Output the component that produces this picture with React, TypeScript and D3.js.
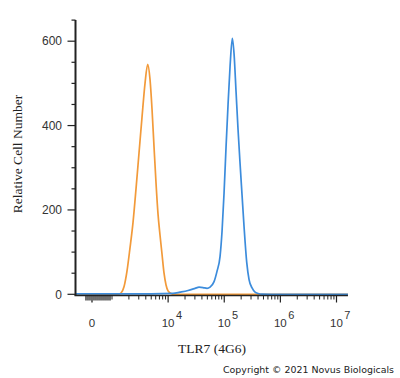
import React from "react";
import * as d3 from "d3";

// ---- data (fluorescence intensity vs relative cell count) ----
const isotypeX = [-850, 0, 1000, 1280, 1445, 1636, 1850, 2093, 2367, 2678, 3029, 3427, 3876, 4327, 4752, 5160, 5605, 6085, 6607, 7174, 7788, 8455, 9181, 9960, 11270, 12750, 100000, 1000000, 16000000];
const isotypeY = [0, 0, 0, 0, 3, 18, 55, 110, 170, 250, 335, 420, 500, 545, 510, 440, 350, 264, 190, 140, 95, 50, 22, 8, 2, 0, 0, 0, 0];

const tlr7X = [-850, 0, 1000, 5000, 12210, 16290, 22630, 30170, 35570, 41920, 49370, 55820, 65790, 74440, 84200, 91400, 99200, 107700, 116900, 126900, 139400, 149500, 162300, 176200, 191300, 207600, 225400, 251800, 276700, 313000, 354000, 400300, 471800, 1000000, 16000000];
const tlr7Y = [1, 1, 1, 1, 2, 5, 9, 14, 17, 16, 14, 17, 30, 55, 90, 150, 240, 350, 450, 540, 607, 570, 480, 390, 310, 235, 160, 75, 35, 15, 5, 2, 0.5, 0, 0];

const yMajorTicks = [0, 200, 400, 600];
const yMinorTicks = [50, 100, 150, 250, 300, 350, 450, 500, 550, 650];
const xDecades = [4, 5, 6, 7];
const xLinearMinor = [-300, -200, -100, 100, 200, 300, 400, 500, 600, 700, 800, 900];

const xTitle = "TLR7 (4G6)";
const yTitle = "Relative Cell Number";
const copyright = "Copyright \u00a9 2021 Novus Biologicals";

// ---- biexponential-like transform: linear near zero, log above 1000 ----
const LIN = 1000;
const LINW = 20 / 56.1;
function tf(v: number): number {
  if (v >= LIN) return Math.log10(v);
  if (v <= -LIN) return 3 - 2 * LINW - Math.log10(-v / LIN);
  return 3 - LINW * (1 - v / LIN);
}

export default function App() {
  const W = 400, H = 378;
  const xs = d3.scaleLinear().domain([3, 7]).range([112, 336.5]);
  const x = (v: number) => xs(tf(v));
  const y = d3.scaleLinear().domain([0, 650]).range([294.3, 20.1]);

  const axisL = 75.5;
  const axisB = y(0) + 1.2;
  const xEnd = x(16000000);

  const line = d3
    .line<[number, number]>()
    .x((d) => x(d[0]))
    .y((d) => y(d[1]))
    .curve(d3.curveMonotoneX);

  const iso = isotypeX.map((v, i) => [v, isotypeY[i]] as [number, number]);
  const tlr = tlr7X.map((v, i) => [v, tlr7Y[i]] as [number, number]);

  const logMinor: number[] = [];
  for (let d = 3; d <= 6; d++) {
    for (let k = d === 3 ? 1 : 2; k <= 9; k++) {
      logMinor.push(k * Math.pow(10, d));
    }
  }

  const tickColor = "#222";
  const labelColor = "#333";

  return (
    <svg
      width={W}
      height={H}
      style={{ position: "absolute", left: 0, top: 0, background: "#fff" }}
    >
      <rect x={0} y={0} width={W} height={H} fill="#fff" />

      {/* curves */}
      <path d={line(iso) || ""} fill="none" stroke="#f29a3a" strokeWidth={1.7} />
      <path d={line(tlr) || ""} fill="none" stroke="#3c8cdc" strokeWidth={1.7} />

      {/* y axis */}
      <line x1={axisL} x2={axisL} y1={y(650)} y2={axisB} stroke={tickColor} strokeWidth={2} />
      {yMajorTicks.map((t) => (
        <g key={"ym" + t}>
          <line x1={axisL - 8} x2={axisL} y1={y(t)} y2={y(t)} stroke={tickColor} strokeWidth={1.2} />
          <text
            x={62}
            y={y(t) + 4.3}
            textAnchor="end"
            fontFamily="Liberation Sans, Arial, sans-serif"
            fontSize={12}
            fill={labelColor}
          >
            {t}
          </text>
        </g>
      ))}
      {yMinorTicks.map((t) => (
        <line key={"yn" + t} x1={axisL - 4} x2={axisL} y1={y(t)} y2={y(t)} stroke={tickColor} strokeWidth={1.2} />
      ))}

      {/* x axis */}
      <line x1={axisL - 1} x2={xEnd} y1={axisB} y2={axisB} stroke={tickColor} strokeWidth={1.6} />
      <line x1={x(0)} x2={x(0)} y1={axisB} y2={axisB + 7} stroke={tickColor} strokeWidth={1.3} />
      {xLinearMinor.map((v) => (
        <line key={"xl" + v} x1={x(v)} x2={x(v)} y1={axisB} y2={axisB + 5} stroke={tickColor} strokeWidth={1.3} />
      ))}
      {logMinor.map((v) => (
        <line key={"xn" + v} x1={x(v)} x2={x(v)} y1={axisB} y2={axisB + 4} stroke={tickColor} strokeWidth={1} />
      ))}
      {xDecades.map((d) => (
        <line key={"xd" + d} x1={x(Math.pow(10, d))} x2={x(Math.pow(10, d))} y1={axisB} y2={axisB + 7} stroke={tickColor} strokeWidth={1.2} />
      ))}

      {/* x tick labels */}
      <text
        x={x(0)}
        y={327}
        textAnchor="middle"
        fontFamily="Liberation Sans, Arial, sans-serif"
        fontSize={11.5}
        fill={labelColor}
      >
        0
      </text>
      {xDecades.map((d) => (
        <text
          key={"xlab" + d}
          x={x(Math.pow(10, d)) - 6.5}
          y={327}
          fontFamily="Liberation Sans, Arial, sans-serif"
          fontSize={11.5}
          fill={labelColor}
        >
          10
          <tspan dx={1.5} dy={-8.5} fontSize={11}>
            {d}
          </tspan>
        </text>
      ))}

      {/* titles */}
      <text
        x={212}
        y={353}
        textAnchor="middle"
        fontFamily="Liberation Serif, Times New Roman, serif"
        fontSize={13.5}
        fill="#222"
      >
        {xTitle}
      </text>
      <text
        transform={`translate(21.5,154) rotate(-90)`}
        textAnchor="middle"
        fontFamily="Liberation Serif, Times New Roman, serif"
        fontSize={13.5}
        fill="#222"
      >
        {yTitle}
      </text>

      {/* copyright */}
      <text
        x={223}
        y={373}
        fontFamily="DejaVu Sans, Verdana, sans-serif"
        fontSize={8.2}
        textLength={171}
        lengthAdjust="spacingAndGlyphs"
        fill="#222"
      >
        {copyright}
      </text>
    </svg>
  );
}
